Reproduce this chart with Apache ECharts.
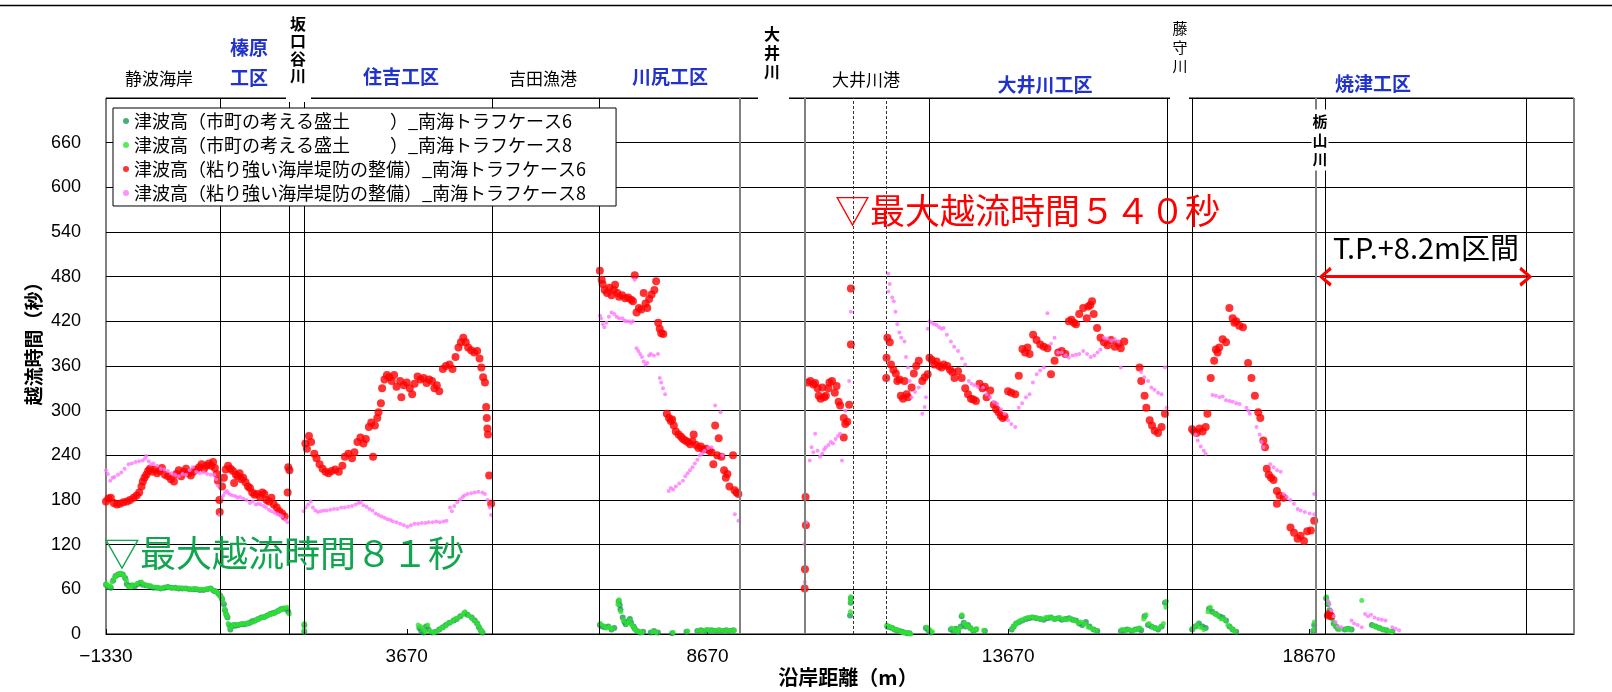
<!DOCTYPE html>
<html>
<head>
<meta charset="utf-8">
<title>越流時間</title>
<script src="https://cdn.jsdelivr.net/npm/echarts@6/dist/echarts.min.js"></script>
<style>
  html, body { margin: 0; padding: 0; background: #fff; }
  #main { width: 1612px; height: 692px; }
</style>
</head>
<body>
<div id="main"></div>
<script>
// x軸の目盛り
const xMin = -1330
const xMax = 23075
const xTicks = [-1330, 3670, 8670, 13670, 18670]
// 区間の境界線
const borderLines = [572, 1718, 1967, 5090, 6866, 12360, 16320, 16733, 18939, 22274]
const riverLines = [9212, 10286, 18786]
const portLines = [11094, 11646]
// T.P.+8.2m区間
const tpRange = [18939, 22274]

// 津波高(市町の考える盛土)_ケース6
const green6 = [
  [-1330, 66], [-1290, 63], [-1250, 62], [-1210, 72], [-1170, 78], [-1130, 80], [-1090, 81], [-1050, 80], [-1010, 75], [-985, 67],
  [-950, 64], [-900, 65], [-850, 64], [-800, 67], [-760, 69], [-718, 66], [-660, 65], [-600, 64], [-540, 62], [-480, 62],
  [-420, 61], [-360, 62], [-300, 63], [-240, 62], [-180, 62], [-124, 61], [-60, 61], [0, 61], [60, 60], [120, 60],
  [173, 60], [230, 59], [290, 59], [350, 60], [410, 61], [460, 58], [500, 57], [540, 54], [572, 51], [600, 47],
  [630, 40], [648, 32], [670, 26], [690, 22], [720, 12], [737, 6], [760, 10], [800, 12], [826, 11], [870, 12],
  [920, 13], [970, 13], [1020, 14], [1063, 15], [1100, 17], [1150, 18], [1200, 20], [1250, 22], [1302, 23], [1350, 25],
  [1400, 27], [1440, 28], [1480, 29], [1530, 31], [1570, 33], [1610, 34], [1657, 34], [1700, 30], [1967, 3], [1967, 12],
  [3880, 8], [3910, 4], [3950, 2], [3990, 10], [4030, 6], [4090, 2], [4150, 3], [4210, 6], [4270, 9], [4320, 12],
  [4380, 15], [4450, 18], [4500, 20], [4560, 24], [4630, 28], [4680, 26], [4750, 22], [4800, 18], [4840, 14], [4870, 9],
  [4900, 5], [4930, 2], [6880, 12], [6920, 10], [6970, 9], [7020, 10], [7074, 6], [7120, 8], [7193, 44], [7210, 39],
  [7222, 33], [7260, 22], [7290, 16], [7311, 13], [7350, 17], [7380, 20], [7400, 15], [7440, 10], [7460, 7], [7500, 4],
  [7549, 2], [7600, 3], [7727, 2], [7780, 4], [7846, 2], [8083, 1], [8321, 3], [8500, 4], [8560, 5], [8620, 4],
  [8680, 5], [8740, 5], [8800, 4], [8860, 5], [8920, 4], [8980, 5], [9040, 4], [9100, 5], [11040, 25], [11050, 42],
  [11053, 48], [11660, 10], [11700, 9], [11740, 8], [11780, 6], [11820, 5], [11860, 4], [11900, 3], [11940, 2], [11990, 1],
  [12030, 1], [12300, 8], [12340, 5], [12380, 2], [12716, 6], [12760, 4], [12800, 7], [12835, 3], [12880, 10], [12895, 24],
  [12930, 15], [12960, 10], [13000, 12], [13040, 8], [13090, 4], [13132, 6], [13281, 4], [13727, 6], [13760, 10], [13800, 14],
  [13850, 16], [13905, 18], [13964, 20], [14020, 21], [14080, 22], [14140, 21], [14202, 20], [14260, 19], [14321, 21], [14380, 22],
  [14440, 20], [14500, 21], [14560, 19], [14620, 20], [14680, 21], [14740, 19], [14796, 18], [14850, 14], [14900, 12], [14960, 16],
  [15020, 10], [15090, 6], [15150, 4], [15542, 4], [15600, 5], [15650, 6], [15720, 4], [15780, 6], [15840, 7], [15880, 5],
  [15936, 24], [15993, 12], [16050, 10], [16110, 8], [16160, 6], [16220, 10], [16275, 42], [16726, 6], [16780, 10], [16840, 14],
  [16900, 10], [16952, 8], [17008, 34], [17060, 30], [17121, 27], [17180, 24], [17234, 22], [17290, 18], [17346, 10], [17400, 6],
  [17459, 3], [18740, 4], [18756, 12], [18954, 48], [18980, 40], [19010, 32], [19040, 22], [19080, 14], [19120, 10], [19151, 7],
  [19264, 6], [19320, 7], [19377, 6], [19715, 12], [19780, 10], [19840, 8], [19900, 6], [19960, 5], [20054, 3]
]

// 津波高(市町の考える盛土)_ケース8
const green8 = [
  [-1330, 68], [-1300, 65], [-1260, 64], [-1230, 70], [-1190, 76], [-1150, 79], [-1110, 81], [-1070, 81], [-1030, 78], [-990, 72],
  [-960, 64], [-920, 63], [-870, 66], [-810, 68], [-740, 70], [-700, 67], [-640, 65], [-580, 64], [-520, 63], [-460, 62],
  [-400, 61], [-340, 63], [-280, 62], [-220, 62], [-160, 61], [-100, 62], [-40, 61], [20, 61], [80, 60], [140, 61],
  [200, 60], [260, 60], [320, 60], [380, 61], [430, 60], [480, 58], [520, 56], [560, 52], [590, 49], [615, 44],
  [640, 34], [660, 28], [680, 24], [700, 14], [745, 8], [780, 12], [840, 12], [890, 13], [940, 14], [1000, 14],
  [1050, 15], [1120, 16], [1170, 19], [1220, 21], [1280, 22], [1330, 24], [1380, 26], [1420, 27], [1460, 28], [1510, 30],
  [1550, 32], [1590, 33], [1630, 35], [1680, 36], [1717, 27], [1965, 6], [1968, 14], [3860, 12], [3900, 10], [3940, 6],
  [3980, 3], [4020, 12], [4060, 4], [4120, 2], [4180, 4], [4240, 8], [4300, 10], [4350, 14], [4410, 16], [4470, 20],
  [4530, 22], [4600, 26], [4640, 30], [4700, 25], [4760, 20], [4820, 16], [4860, 12], [4890, 6], [4920, 3], [6890, 14],
  [6940, 11], [6990, 8], [7040, 9], [7090, 7], [7180, 40], [7200, 46], [7230, 30], [7270, 18], [7330, 14], [7370, 18],
  [7410, 12], [7450, 8], [7480, 5], [7530, 3], [7580, 2], [7760, 3], [7810, 2], [8100, 2], [8340, 4], [8520, 5],
  [8580, 4], [8650, 6], [8700, 5], [8760, 4], [8830, 5], [8890, 5], [8950, 4], [9010, 5], [9070, 4], [9120, 5],
  [11045, 30], [11048, 44], [11052, 50], [11650, 12], [11680, 10], [11720, 9], [11760, 7], [11800, 6], [11840, 5], [11880, 3],
  [11920, 2], [11960, 2], [12010, 1], [12050, 0], [12320, 9], [12360, 6], [12410, 3], [12730, 8], [12780, 5], [12820, 4],
  [12860, 8], [12900, 26], [12940, 14], [12980, 11], [13020, 9], [13060, 6], [13110, 5], [13150, 7], [13260, 5], [13740, 8],
  [13780, 12], [13820, 15], [13870, 18], [13930, 20], [13990, 22], [14050, 23], [14110, 22], [14170, 21], [14230, 20], [14290, 22],
  [14350, 23], [14410, 21], [14470, 20], [14530, 22], [14590, 20], [14650, 19], [14710, 21], [14770, 18], [14830, 15], [14880, 16],
  [14940, 13], [15000, 9], [15060, 7], [15120, 5], [15560, 6], [15620, 5], [15690, 6], [15750, 5], [15810, 6], [15860, 8],
  [15920, 20], [15960, 26], [16010, 14], [16070, 9], [16130, 7], [16190, 9], [16250, 14], [16290, 36], [16300, 44], [16740, 8],
  [16800, 12], [16860, 9], [16920, 6], [16990, 30], [17030, 36], [17090, 28], [17150, 25], [17210, 20], [17270, 19], [17320, 12],
  [17380, 8], [17430, 4], [18750, 6], [18758, 16], [18960, 50], [18990, 42], [19020, 30], [19060, 20], [19100, 13], [19140, 8],
  [19180, 6], [19290, 7], [19350, 6], [19546, 45], [19740, 11], [19800, 9], [19860, 7], [19920, 6], [19990, 4], [20040, 3]
]

// 津波高(粘り強い海岸堤防の整備)_ケース6
const red6 = [
  [-1330, 178], [-1290, 182], [-1250, 183], [-1200, 176], [-1150, 174], [-1100, 175], [-1040, 177], [-980, 178], [-930, 180], [-870, 183],
  [-820, 186], [-778, 190], [-740, 198], [-718, 205], [-690, 210], [-660, 214], [-630, 219], [-600, 222], [-560, 218], [-520, 221],
  [-480, 216], [-440, 219], [-400, 223], [-350, 214], [-300, 212], [-250, 208], [-200, 205], [-160, 215], [-120, 220], [-80, 212],
  [-40, 218], [0, 222], [40, 216], [80, 213], [120, 218], [170, 221], [220, 224], [260, 228], [300, 222], [340, 226],
  [380, 229], [420, 226], [450, 231], [480, 223], [510, 215], [530, 206], [555, 180], [560, 164], [600, 198], [630, 210],
  [660, 221], [700, 226], [740, 222], [780, 219], [800, 203], [830, 214], [860, 212], [890, 216], [920, 208], [950, 210],
  [990, 204], [1030, 198], [1063, 196], [1100, 190], [1140, 187], [1183, 188], [1230, 184], [1270, 190], [1302, 188], [1340, 180],
  [1380, 178], [1420, 183], [1460, 174], [1509, 170], [1550, 165], [1598, 162], [1640, 158], [1690, 190], [1700, 224], [1720, 220],
  [1985, 256], [2010, 249], [2044, 266], [2080, 258], [2133, 242], [2170, 236], [2220, 228], [2270, 222], [2320, 218], [2370, 216],
  [2420, 219], [2480, 221], [2540, 218], [2600, 226], [2640, 238], [2700, 242], [2760, 236], [2800, 244], [2850, 258], [2900, 264],
  [2950, 256], [2990, 262], [3040, 278], [3080, 284], [3110, 238], [3140, 280], [3180, 290], [3200, 298], [3240, 310], [3260, 330],
  [3300, 342], [3340, 348], [3380, 345], [3420, 340], [3460, 348], [3500, 332], [3560, 340], [3580, 318], [3620, 334], [3670, 338],
  [3720, 330], [3760, 322], [3800, 336], [3850, 346], [3900, 342], [3950, 344], [4000, 337], [4040, 342], [4090, 340], [4130, 330],
  [4170, 334], [4210, 326], [4270, 356], [4320, 360], [4380, 362], [4430, 356], [4480, 372], [4530, 385], [4570, 392], [4610, 398],
  [4650, 392], [4690, 385], [4740, 381], [4790, 378], [4840, 380], [4880, 370], [4910, 358], [4940, 345], [4970, 338], [4990, 305],
  [5000, 290], [5010, 276], [5020, 268], [5040, 213], [5073, 175], [6880, 488], [6910, 476], [6925, 470], [6960, 462], [7000, 458],
  [7040, 465], [7074, 455], [7110, 462], [7133, 469], [7170, 458], [7200, 453], [7250, 455], [7300, 451], [7350, 452], [7400, 449],
  [7430, 447], [7460, 482], [7490, 432], [7530, 438], [7570, 436], [7609, 458], [7640, 444], [7668, 438], [7700, 450], [7740, 456],
  [7787, 462], [7816, 474], [7850, 418], [7876, 410], [7900, 404], [7935, 403], [7994, 296], [8030, 290], [8060, 286], [8083, 288],
  [8110, 280], [8143, 272], [8190, 268], [8230, 265], [8262, 262], [8300, 260], [8340, 258], [8380, 255], [8420, 259], [8440, 268],
  [8480, 254], [8520, 250], [8559, 252], [8600, 248], [8650, 249], [8700, 246], [8737, 244], [8767, 228], [8797, 280], [8830, 240],
  [8856, 263], [8900, 238], [8945, 220], [8974, 210], [9000, 215], [9034, 198], [9094, 240], [9120, 193], [9153, 190], [9183, 188],
  [10300, 184], [10305, 146], [10290, 87], [10285, 61], [10340, 338], [10380, 340], [10430, 335], [10459, 337], [10500, 330], [10518, 320],
  [10550, 316], [10578, 331], [10610, 318], [10637, 320], [10680, 330], [10697, 338], [10740, 340], [10786, 324], [10816, 333], [10850, 312],
  [10875, 307], [10935, 290], [10960, 282], [10994, 285], [10935, 264], [11024, 308], [11053, 389], [11053, 464], [11640, 344], [11646, 371],
  [11660, 398], [11700, 392], [11720, 362], [11760, 355], [11800, 350], [11825, 340], [11860, 342], [11884, 320], [11920, 316], [11944, 340],
  [11980, 322], [12003, 318], [12063, 331], [12100, 350], [12140, 360], [12182, 367], [12241, 340], [12280, 345], [12330, 349], [12360, 371],
  [12400, 368], [12440, 362], [12479, 366], [12520, 360], [12560, 358], [12597, 362], [12657, 360], [12700, 355], [12740, 352], [12776, 344],
  [12835, 353], [12895, 344], [12954, 330], [13000, 322], [13050, 316], [13090, 315], [13132, 313], [13192, 336], [13240, 330], [13280, 332],
  [13310, 318], [13370, 327], [13430, 308], [13470, 302], [13510, 298], [13548, 293], [13580, 290], [13608, 292], [13667, 326], [13720, 324],
  [13786, 322], [13845, 347], [13905, 383], [13950, 378], [13990, 385], [14024, 376], [14083, 402], [14140, 395], [14202, 389], [14260, 386],
  [14321, 384], [14380, 349], [14440, 367], [14500, 378], [14559, 380], [14620, 376], [14677, 420], [14720, 422], [14760, 418], [14796, 416],
  [14850, 430], [14915, 438], [14975, 424], [15000, 440], [15034, 442], [15063, 447], [15090, 430], [15146, 411], [15203, 398], [15260, 392],
  [15320, 388], [15380, 395], [15440, 386], [15500, 390], [15541, 384], [15598, 393], [15852, 358], [15880, 340], [15936, 320], [15965, 304],
  [16021, 287], [16060, 280], [16105, 273], [16160, 270], [16218, 278], [16275, 296], [16726, 275], [16760, 272], [16800, 270], [16850, 276],
  [16900, 272], [16952, 278], [16980, 296], [17036, 344], [17093, 367], [17121, 382], [17150, 378], [17177, 385], [17234, 396], [17290, 392],
  [17346, 438], [17400, 424], [17430, 418], [17459, 420], [17510, 414], [17572, 412], [17657, 364], [17713, 344], [17770, 320], [17826, 298],
  [17860, 290], [17911, 260], [17939, 251], [17967, 222], [18000, 214], [18040, 210], [18080, 207], [18136, 192], [18180, 186], [18249, 183],
  [18136, 175], [18362, 143], [18420, 136], [18480, 128], [18530, 132], [18587, 125], [18640, 138], [18700, 139], [18756, 152], [18982, 25],
  [19010, 27], [19038, 24]
]

// 津波高(粘り強い海岸堤防の整備)_ケース8
const pink8 = [
  [-1330, 220], [-1300, 215], [-1260, 206], [-1220, 210], [-1190, 211], [-1130, 214], [-1075, 217], [-1020, 222], [-955, 228], [-900, 229],
  [-840, 231], [-780, 232], [-720, 233], [-680, 236], [-660, 239], [-620, 232], [-580, 228], [-540, 229], [-480, 226], [-420, 222],
  [-360, 221], [-300, 219], [-240, 216], [-180, 214], [-120, 212], [-60, 215], [0, 214], [60, 220], [113, 224], [170, 218],
  [230, 216], [290, 217], [350, 215], [410, 214], [470, 214], [500, 208], [530, 199], [559, 160], [589, 183], [620, 186],
  [650, 190], [680, 192], [707, 189], [740, 187], [780, 186], [826, 185], [860, 183], [900, 184], [950, 182], [1004, 180],
  [1063, 176], [1110, 178], [1160, 174], [1200, 175], [1242, 174], [1290, 172], [1330, 170], [1380, 167], [1420, 165], [1470, 163],
  [1520, 161], [1560, 160], [1598, 158], [1650, 153], [1687, 150], [1955, 165], [1990, 170], [2030, 174], [2074, 178], [2110, 170],
  [2150, 166], [2193, 164], [2240, 165], [2290, 166], [2340, 166], [2400, 167], [2460, 168], [2520, 168], [2580, 170], [2640, 170],
  [2700, 171], [2760, 172], [2820, 174], [2870, 176], [2905, 177], [2950, 173], [3000, 171], [3050, 168], [3100, 166], [3150, 162],
  [3200, 160], [3250, 158], [3300, 156], [3350, 154], [3400, 153], [3440, 151], [3500, 150], [3560, 148], [3620, 146], [3680, 144],
  [3740, 146], [3800, 148], [3860, 148], [3920, 149], [3980, 149], [4035, 150], [4100, 150], [4160, 151], [4220, 150], [4280, 151],
  [4330, 152], [4390, 170], [4420, 165], [4460, 172], [4510, 177], [4560, 181], [4600, 184], [4630, 186], [4680, 188], [4740, 189],
  [4800, 190], [4860, 191], [4925, 190], [4970, 188], [5014, 180], [5050, 170], [5073, 160], [6880, 428], [6900, 424], [6930, 416],
  [6955, 412], [6990, 418], [7030, 426], [7074, 432], [7120, 430], [7160, 426], [7200, 424], [7252, 424], [7290, 421], [7311, 420],
  [7360, 420], [7400, 418], [7430, 420], [7460, 476], [7490, 384], [7520, 380], [7549, 376], [7580, 372], [7609, 366], [7640, 362],
  [7668, 364], [7700, 374], [7727, 376], [7780, 374], [7846, 376], [7876, 344], [7900, 338], [7930, 330], [7965, 322], [8024, 192],
  [8060, 196], [8100, 194], [8143, 198], [8200, 202], [8262, 206], [8300, 212], [8340, 216], [8380, 220], [8420, 224], [8460, 229],
  [8500, 234], [8540, 240], [8580, 242], [8620, 246], [8680, 250], [8737, 251], [8797, 307], [8886, 298], [8915, 240], [9124, 161],
  [9183, 152], [10280, 121], [10285, 70], [10310, 150], [10370, 233], [10400, 251], [10430, 244], [10459, 269], [10500, 246], [10540, 238],
  [10578, 242], [10610, 248], [10637, 251], [10680, 254], [10720, 258], [10756, 256], [10800, 262], [10840, 266], [10875, 269], [10905, 233],
  [10960, 300], [11024, 340], [11053, 433], [11676, 484], [11676, 460], [11700, 470], [11740, 452], [11766, 447], [11795, 433], [11825, 416],
  [11860, 405], [11890, 398], [11944, 393], [11970, 372], [12003, 358], [12030, 340], [12063, 318], [12120, 325], [12182, 331], [12241, 296],
  [12280, 305], [12301, 318], [12330, 410], [12360, 420], [12400, 418], [12440, 416], [12480, 415], [12520, 412], [12560, 410], [12597, 411],
  [12650, 402], [12716, 393], [12770, 386], [12835, 380], [12900, 370], [12954, 362], [13014, 340], [13060, 336], [13110, 334], [13160, 332],
  [13251, 331], [13310, 322], [13370, 318], [13430, 312], [13489, 309], [13550, 302], [13608, 296], [13667, 287], [13720, 282], [13786, 278],
  [13845, 304], [13900, 310], [13964, 318], [14024, 322], [14080, 338], [14142, 349], [14200, 354], [14261, 358], [14321, 431], [14380, 390],
  [14440, 398], [14500, 378], [14559, 378], [14620, 374], [14677, 371], [14740, 374], [14796, 375], [14850, 376], [14915, 380], [14980, 376],
  [15040, 372], [15100, 374], [15153, 378], [15203, 382], [15260, 398], [15316, 397], [15380, 394], [15440, 396], [15500, 393], [15541, 358],
  [15880, 352], [15930, 345], [15993, 340], [16049, 331], [16100, 328], [16160, 324], [16218, 322], [16275, 358], [16303, 304], [16783, 268],
  [16820, 260], [16870, 252], [16920, 246], [16952, 242], [17065, 321], [17120, 320], [17180, 318], [17234, 319], [17290, 314], [17346, 313],
  [17400, 312], [17460, 310], [17516, 309], [17629, 304], [17660, 300], [17685, 296], [17798, 278], [17850, 268], [17880, 258], [17911, 251],
  [18024, 228], [18080, 224], [18140, 220], [18200, 218], [18249, 188], [18300, 184], [18360, 180], [18418, 175], [18480, 168], [18531, 166],
  [18600, 164], [18680, 162], [18756, 161], [18756, 188], [18982, 45], [19010, 40], [19040, 32], [19080, 24], [19110, 16], [19151, 10],
  [19208, 9], [19377, 18], [19420, 14], [19480, 12], [19546, 9], [19602, 27], [19650, 24], [19700, 26], [19760, 22], [19820, 20],
  [19880, 19], [19941, 18], [20054, 9], [20110, 7], [20167, 5]
]

const seriesNames = [
  '津波高（市町の考える盛土　　 ）_南海トラフケース6',
  '津波高（市町の考える盛土　　 ）_南海トラフケース8',
  '津波高（粘り強い海岸堤防の整備）_南海トラフケース6',
  '津波高（粘り強い海岸堤防の整備）_南海トラフケース8'
]

const JP = "'Noto Sans CJK JP', sans-serif"
const NUM = "'Liberation Sans', Arial, sans-serif"
const BLUE = '#2233cc'
// 開いた矢じり
const CHEVRON = 'path://M5,0 L10,8 L8.4,9.2 L5,3.2 L1.6,9.2 L0,8 Z'

const myChart = echarts.init(document.getElementById('main'))

// 区間の縦線
const vLines = []
borderLines.forEach(v => vLines.push({ xAxis: v, lineStyle: { color: '#000', width: 1, type: 'solid' } }))
riverLines.forEach(v => vLines.push({ xAxis: v, lineStyle: { color: '#808080', width: 2, type: 'solid' } }))
portLines.forEach(v => vLines.push({ xAxis: v, lineStyle: { color: '#333', width: 1, type: [3, 2] } }))
vLines.push({ xAxis: xMax, lineStyle: { color: '#808080', width: 2, type: 'solid' } })

// 上部の地名ラベル
function label (x, y, text, opt) {
  return {
    type: 'text',
    z: 100,
    x: x,
    y: y,
    style: Object.assign({
      text: text,
      fill: '#000',
      font: '17px ' + JP,
      textAlign: 'center',
      textVerticalAlign: 'middle'
    }, opt || {})
  }
}
const blue = { fill: BLUE, font: 'bold 19px ' + JP }

const option = {
  animation: false,
  backgroundColor: '#fff',
  grid: {
    left: 106,
    right: 38,
    top: 98,
    bottom: 58,
    show: true,
    borderColor: '#000',
    borderWidth: 1
  },
  legend: {
    orient: 'vertical',
    left: 113,
    top: 108,
    padding: [4, 30, 4, 10],
    itemGap: 6,
    itemWidth: 6,
    itemHeight: 6,
    icon: 'circle',
    backgroundColor: '#fff',
    borderColor: '#000',
    borderWidth: 1,
    z: 50,
    textStyle: { fontSize: 18, fontFamily: JP, color: '#000' },
    data: seriesNames
  },
  xAxis: {
    type: 'value',
    min: xMin,
    max: xMax,
    interval: 5000,
    axisLine: { show: true, onZero: false, lineStyle: { color: '#000', width: 1 } },
    axisTick: { show: true, inside: true, length: 5, lineStyle: { color: '#000' } },
    splitLine: { show: false },
    axisLabel: {
      margin: 13,
      fontSize: 19,
      fontFamily: NUM,
      color: '#000',
      formatter: v => (xTicks.indexOf(v) >= 0 ? String(v).replace('-', '−') : '')
    }
  },
  yAxis: {
    type: 'value',
    position: 'left',
    min: 0,
    max: 720,
    interval: 60,
    axisLine: { show: false, onZero: false },
    axisTick: { show: false },
    splitLine: { show: true, lineStyle: { color: '#000', width: 1 } },
    axisLabel: {
      margin: 25,
      fontSize: 18,
      fontFamily: NUM,
      color: '#000',
      formatter: v => (v === 720 ? '' : String(v))
    }
  },
  series: [
    {
      name: seriesNames[0],
      type: 'scatter',
      data: green6,
      symbolSize: 6,
      itemStyle: { color: '#1e9a58' },
      markLine: {
        silent: true,
        symbol: 'none',
        label: { show: false },
        animation: false,
        data: vLines
      }
    },
    {
      name: seriesNames[1],
      type: 'scatter',
      data: green8,
      symbolSize: 5,
      itemStyle: { color: '#2ee62e' }
    },
    {
      name: seriesNames[2],
      type: 'scatter',
      data: red6,
      symbolSize: 8,
      itemStyle: { color: '#ff0000' },
      markLine: {
        silent: true,
        symbol: [CHEVRON, CHEVRON],
        symbolSize: [20, 13],
        label: { show: false },
        animation: false,
        lineStyle: { color: '#ff0000', width: 3, type: 'solid' },
        data: [[{ coord: [tpRange[0], 480] }, { coord: [tpRange[1], 480] }]]
      }
    },
    {
      name: seriesNames[3],
      type: 'scatter',
      data: pink8,
      symbolSize: 4,
      itemStyle: { color: '#ff77ff' }
    }
  ],
  graphic: [
    // 上端の枠線
    { type: 'line', z: 99, shape: { x1: 0, y1: 5.5, x2: 1612, y2: 5.5 }, style: { stroke: '#000', lineWidth: 1.5 } },
    // 上枠の切れ目(河川)
    { type: 'rect', z: 99, shape: { x: 286, y: 94, width: 25, height: 8 }, style: { fill: '#fff' } },
    { type: 'rect', z: 99, shape: { x: 758, y: 94, width: 31, height: 8 }, style: { fill: '#fff' } },
    { type: 'rect', z: 99, shape: { x: 1170, y: 94, width: 19, height: 8 }, style: { fill: '#fff' } },
    label(159, 79, '静波海岸'),
    label(249, 48, '榛原', blue),
    label(249, 78, '工区', blue),
    label(298, 50, '坂\n口\n谷\n川', { font: 'bold 16px ' + JP, lineHeight: 17.5 }),
    label(401, 77, '住吉工区', blue),
    label(543, 79, '吉田漁港'),
    label(670, 77, '川尻工区', blue),
    label(772, 53, '大\n井\n川', { font: 'bold 16px ' + JP, lineHeight: 19 }),
    label(866, 80, '大井川港'),
    label(1045, 85, '大井川工区', blue),
    label(1180, 47, '藤\n守\n川', { font: '15px ' + JP, lineHeight: 19 }),
    label(1373, 84, '焼津工区', blue),
    label(1320, 140, '栃\n山\n川', { font: 'bold 15px ' + JP, lineHeight: 19, backgroundColor: '#fff', padding: [2, 1] }),
    // 注記
    label(835, 211, '▽最大越流時間５４０秒', { fill: '#ff0000', font: '35px ' + JP, textAlign: 'left' }),
    label(104, 553, '▽最大越流時間８１秒', { fill: '#12a550', font: '36px ' + JP, textAlign: 'left' }),
    label(1333, 248, 'T.P.+8.2m区間', { font: '29px ' + JP, textAlign: 'left' }),
    // 軸名
    label(848, 677, '沿岸距離（m）', { font: 'bold 20px ' + JP }),
    { type: 'text', z: 100, x: 34, y: 339, rotation: Math.PI / 2,
      style: { text: '越流時間（秒）', fill: '#000', font: 'bold 19px ' + JP, textAlign: 'center', textVerticalAlign: 'middle' } }
  ]
}

myChart.setOption(option)
</script>
</body>
</html>
